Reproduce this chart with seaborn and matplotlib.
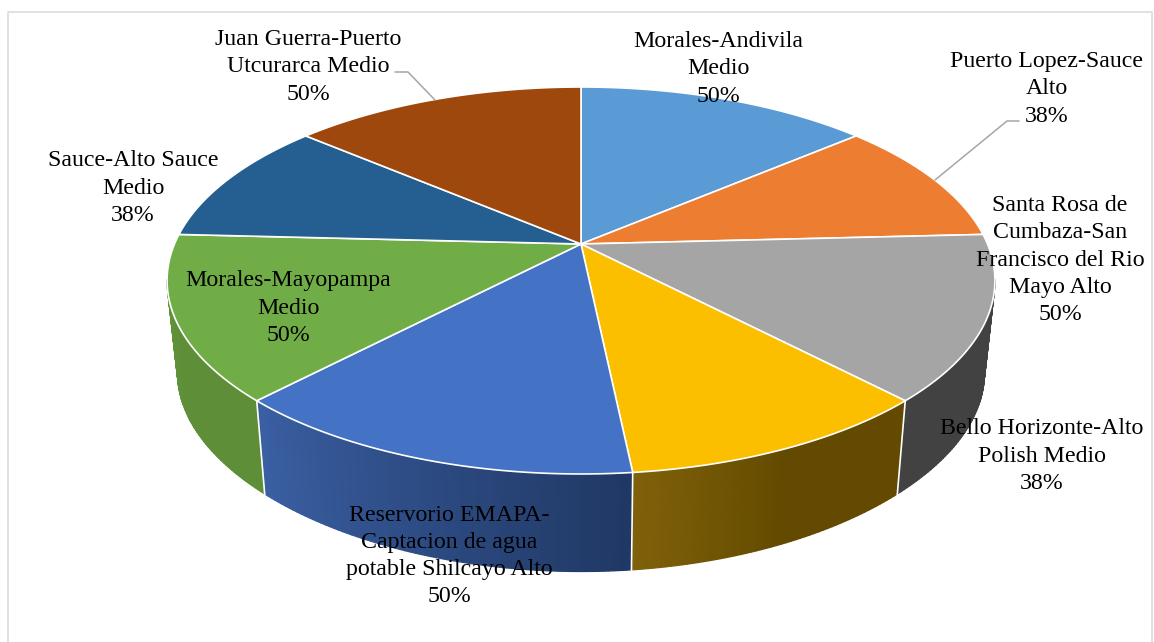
import numpy as np
import matplotlib
matplotlib.use("Agg")
import matplotlib.pyplot as plt
import seaborn as sns

# ---- data ----
names = [
    "Morales-Andivila\nMedio",
    "Puerto Lopez-Sauce\nAlto",
    "Santa Rosa de\nCumbaza-San\nFrancisco del Rio\nMayo Alto",
    "Bello Horizonte-Alto\nPolish Medio",
    "Reservorio EMAPA-\nCaptacion de agua\npotable Shilcayo Alto",
    "Morales-Mayopampa\nMedio",
    "Sauce-Alto Sauce\nMedio",
    "Juan Guerra-Puerto\nUtcurarca Medio",
]
values = [50, 38, 50, 38, 50, 50, 38, 50]
top_colors = ["#5B9BD5", "#ED7D31", "#A5A5A5", "#FCBF00", "#4472C4", "#70AD47", "#255E91", "#9E480E"]
wall_left = ["#2F6A9E", "#A65A1F", "#424242", "#80610A", "#3A5FA3", "#60943A", "#1A4265", "#6E320A"]
wall_right = ["#2F6A9E", "#A65A1F", "#424242", "#634A00", "#203864", "#5E8E38", "#1A4265", "#6E320A"]

# ---- layout ----
label_xy = [(718, 69), (1047, 89), (1060, 260), (1042, 456), (449, 556), (288, 308), (133, 188), (308, 67)]
CX, CY = 581, 244
VISIBLE = (100.5, 259.5)

sns.set_theme(style="white")
plt.rcParams["font.family"] = ["Liberation Serif", "DejaVu Serif"]


def rim(theta, A, kx, B, ky, y0):
    t = np.radians(theta)
    return CX + A * np.sin(t) / (1 + kx * np.cos(t)), y0 - B * np.cos(t) / (1 + ky * np.cos(t))


def top(theta):
    return rim(theta, 406.5, 0.1886, 186.6, 0.1886, CY)


def bottom(theta):
    return rim(theta, 396, 0.19, 177, 0.24, 338.6)


fig = plt.figure(figsize=(11.54, 6.42), dpi=100, facecolor="white")
ax = fig.add_axes([0, 0, 1, 1])
ax.set_xlim(0, 1154)
ax.set_ylim(642, 0)
ax.set_axis_off()

edges = np.concatenate([[0], np.cumsum(values)]) * 360 / np.sum(values)

# chart frame
ax.plot([8, 8, 1152, 1152], [642, 12, 12, 642], color="#D9D9D9", lw=1.1, zorder=0)

# side walls, shaded in thin strips
for i in range(len(values)):
    a0, a1 = max(edges[i], VISIBLE[0]), min(edges[i + 1], VISIBLE[1])
    if a1 <= a0:
        continue
    n = max(int((a1 - a0) * 1.5), 2)
    grid = np.linspace(a0, a1, n + 1)
    pal = sns.blend_palette([wall_left[i], wall_right[i], wall_right[i]], n)
    if i == 4:
        pal = sns.blend_palette([wall_left[i], wall_right[i]], n)
    xs = [top(g)[0] for g in grid]
    order = range(n) if xs[0] < xs[-1] else range(n - 1, -1, -1)
    for c, j in zip(pal, order):
        g = np.linspace(grid[j], grid[j + 1], 4)
        xt, yt = top(g)
        xb, yb = bottom(g)
        ax.fill(np.r_[xt, xb[::-1]], np.r_[yt, yb[::-1]], facecolor=c, edgecolor=c, lw=0.9, zorder=1)

# seams between the walls
for e in edges:
    if VISIBLE[0] < e < VISIBLE[1]:
        xt, yt = top(e)
        xb, yb = bottom(e)
        ax.plot([xt, xb], [yt, yb + 1], color="white", lw=1.2, zorder=2)

# top face
for i in range(len(values)):
    g = np.linspace(edges[i], edges[i + 1], 120)
    xt, yt = top(g)
    ax.fill(np.r_[CX, xt], np.r_[CY, yt], facecolor=top_colors[i], edgecolor="white",
            lw=1.2, joinstyle="round", zorder=3)

# leader lines
ax.plot([1019, 1007, 935], [121, 121, 180], color="#A6A6A6", lw=1.1, zorder=4)
ax.plot([395, 408, 435], [72, 72, 100], color="#A6A6A6", lw=1.1, zorder=4)

# labels
for name, v, (x, y) in zip(names, values, label_xy):
    ax.text(x, y, f"{name}\n{v}%", ha="center", va="center", fontsize=17.2,
            linespacing=1.395, color="black", zorder=5)

fig.savefig("out.png", dpi=100, facecolor="white")
